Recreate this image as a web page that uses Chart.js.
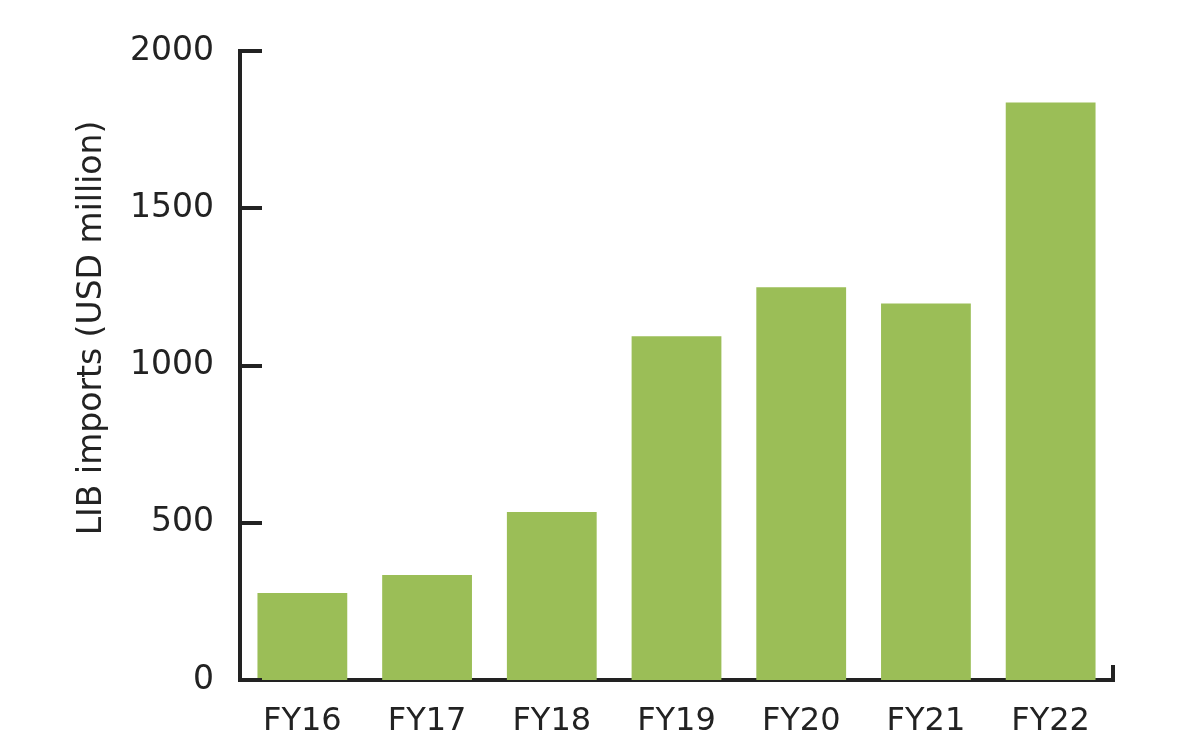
<!DOCTYPE html>
<html>
<head>
<meta charset="utf-8">
<script src="https://cdn.jsdelivr.net/npm/chart.js@4/dist/chart.umd.min.js"></script>
<style>
    html, body { margin: 0; padding: 0; background: #ffffff; }
    #wrap { width: 1200px; height: 756px; position: relative; }
</style>
</head>
<body>
<div id="wrap"><canvas id="barChart"></canvas></div>
<script>
// Chart data
const fiscalYears = ['FY16', 'FY17', 'FY18', 'FY19', 'FY20', 'FY21', 'FY22'];
const libImports = [277, 334, 534, 1093, 1249, 1197, 1836];
const yTicks = [0, 500, 1000, 1500, 2000];
const yTitle = 'LIB imports (USD million)';

const axisColor = '#222222';
const barColor = '#9bbe57';
const fontFamily = "'DejaVu Sans', 'Noto Sans', sans-serif";

//Draws the inward tick marks, the end tick on the x axis and the y title.
const innerTicks = {
    id: 'innerTicks',
    afterDraw: function (chart) {
        var ctx = chart.ctx;
        var yScale = chart.scales.y;
        var xScale = chart.scales.x;
        var left = chart.chartArea.left;
        var bottom = chart.chartArea.bottom;

        ctx.save();
        ctx.strokeStyle = axisColor;
        ctx.lineWidth = 4;
        ctx.lineCap = 'butt';

        yTicks.forEach(function (tick) {
            var y = Math.round(yScale.getPixelForValue(tick));
            ctx.beginPath();
            ctx.moveTo(left - 2, y);
            ctx.lineTo(left + 22, y);
            ctx.stroke();
        });

        ctx.beginPath();
        ctx.moveTo(xScale.right, bottom + 2);
        ctx.lineTo(xScale.right, bottom - 15);
        ctx.stroke();

        //Axis title, sitting a little above the middle of the axis.
        ctx.translate(92, 328);
        ctx.rotate(-Math.PI / 2);
        ctx.fillStyle = axisColor;
        ctx.font = '33px ' + fontFamily;
        ctx.textAlign = 'center';
        ctx.textBaseline = 'middle';
        ctx.fillText(yTitle, 0, 0);
        ctx.restore();
    }
};

function GenerateBarChart() {
    var barChartControl = document.getElementById('barChart');

    new Chart(barChartControl, {
        type: 'bar',
        data: {
            labels: fiscalYears,
            datasets: [{
                label: 'LIB imports',
                data: libImports,
                backgroundColor: barColor,
                borderWidth: 0,
                barPercentage: 0.72,
                categoryPercentage: 1.0
            }]
        },
        options: {
            responsive: true,
            maintainAspectRatio: false,
            animation: false,
            layout: {
                padding: { top: 51, right: 87, left: 0, bottom: 0 }
            },
            scales: {
                y: {
                    min: 0,
                    max: 2000,
                    afterFit: function (scale) { scale.width = 240; },
                    afterBuildTicks: function (scale) {
                        scale.ticks = yTicks.map(function (v) { return { value: v }; });
                    },
                    grid: { display: false, drawTicks: false },
                    border: { display: true, color: axisColor, width: 4 },
                    ticks: {
                        padding: 26,
                        color: axisColor,
                        font: { family: fontFamily, size: 33 },
                        callback: function (value) { return String(value); }
                    }
                },
                x: {
                    afterFit: function (scale) { scale.height = 76; },
                    grid: { display: false, drawTicks: false },
                    border: { display: true, color: axisColor, width: 4 },
                    ticks: {
                        padding: 22,
                        color: axisColor,
                        font: { family: fontFamily, size: 32 }
                    }
                }
            },
            plugins: {
                legend: { display: false },
                tooltip: { enabled: false }
            }
        },
        plugins: [innerTicks]
    });
}

GenerateBarChart();
</script>
</body>
</html>
